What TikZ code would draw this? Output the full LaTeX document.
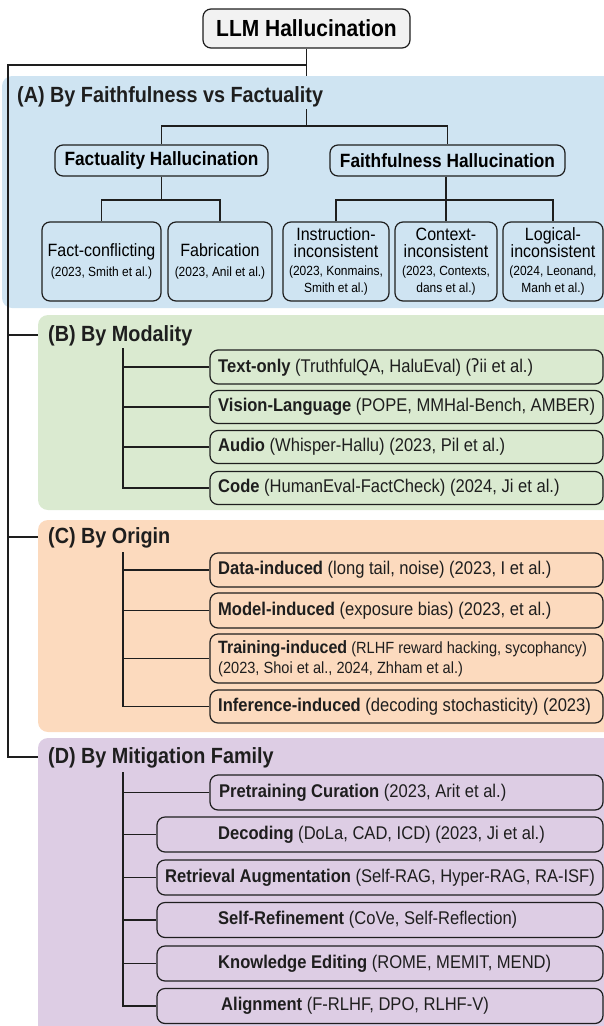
\documentclass[tikz,border=0pt]{standalone}
\usepackage{fontspec}
\setmainfont[FakeStretch=0.9]{Liberation Sans}
\newfontfamily\dejavu[FakeStretch=0.9]{DejaVu Sans}
\definecolor{panelA}{RGB}{207,228,242}
\definecolor{panelB}{RGB}{218,234,208}
\definecolor{panelC}{RGB}{252,218,190}
\definecolor{panelD}{RGB}{221,205,228}
\definecolor{rootfill}{RGB}{242,242,242}
\definecolor{ink}{RGB}{30,30,30}
\newcommand\lsm[1]{{\fontsize{13.3}{14}\selectfont #1}}
\begin{document}
\begin{tikzpicture}[x=1pt,y=-1pt,
  panel/.style={rounded corners=10pt},
  box/.style={draw=ink, line width=1.2pt, rounded corners=8pt, inner sep=0pt},
  ln/.style={draw=ink, line width=1.3pt},
  ttl/.style={font=\fontsize{22}{26}\selectfont\bfseries, anchor=west, inner sep=0pt, text=ink},
  mid/.style={box, minimum height=31pt, font=\fontsize{19.2}{22}\selectfont\bfseries, fill=panelA},
  leaf/.style={box, minimum height=79pt, align=center, font=\fontsize{17.8}{17.5}\selectfont, fill=panelA},
  itxt/.style={font=\fontsize{18.4}{21}\selectfont, anchor=west, inner sep=0pt, text=ink, align=left},
  itemB/.style={box, minimum width=393pt, fill=panelB},
  itemC/.style={box, minimum width=393pt, fill=panelC},
  itemD/.style={box, fill=panelD}
]
\useasboundingbox (0,0) rectangle (604,1026);

% panels
\fill[panelA, panel] (2,76) rectangle (620,308);
\fill[panelB, panel] (38,315) rectangle (620,510);
\fill[panelC, panel] (38,520) rectangle (620,732);
\fill[panelD, panel] (38,738) rectangle (620,1045);

% root
\node[box, fill=rootfill, minimum width=207pt, minimum height=39pt,
      font=\fontsize{23.3}{27}\selectfont\bfseries] (root) at (306.5,28.5) {LLM Hallucination};

% spine
\coordinate (j0) at (306.5,65);
\coordinate (aTop) at (306.5,76);
\coordinate (s0) at (8,65);
\coordinate (sB) at (8,335);
\coordinate (sC) at (8,537);
\coordinate (sD) at (8,757);
\coordinate (pB) at (38,335);
\coordinate (pC) at (38,537);
\coordinate (pD) at (38,757);
\draw[ln] (root.south) -- (aTop);
\draw[ln] (j0) -- (s0) -- (sD) -- (pD);
\draw[ln] (sB) -- (pB);
\draw[ln] (sC) -- (pC);

% ---------- Panel A ----------
\node[ttl] (tA) at (17,97) {(A) By Faithfulness vs Factuality};
\coordinate (aS) at (306.5,109);
\coordinate (aF) at (306.5,126);
\node[mid, minimum width=213pt] (fact) at (161.5,160.5) {Factuality Hallucination};
\node[mid, minimum width=235pt] (faith) at (447.5,160.5) {Faithfulness Hallucination};
\draw[ln] (aS) -- (aF);
\draw[ln] (fact.north) |- (aF) -| (faith.north);

\node[leaf, minimum width=119pt] (fc) at (101.5,261.5) {Fact-conflicting\\[3pt]\lsm{(2023, Smith et al.)}};
\node[leaf, minimum width=104pt] (fab) at (220,261.5) {Fabrication\\[3pt]\lsm{(2023, Anil et al.)}};
\node[leaf, minimum width=106pt] (inst) at (336,261.5) {Instruction-\\inconsistent\\\lsm{(2023, Konmains,}\\\lsm{Smith et al.)}};
\node[leaf, minimum width=102pt] (ctx) at (446,261.5) {Context-\\inconsistent\\\lsm{(2023, Contexts,}\\\lsm{dans et al.)}};
\node[leaf, minimum width=100pt] (log) at (553,261.5) {Logical-\\inconsistent\\\lsm{(2024, Leonand,}\\\lsm{Manh et al.)}};
\coordinate (fkA) at (161.5,200);
\coordinate (fkB) at (446,200);
\draw[ln] (fact.south) -- (fkA);
\draw[ln] (fc.north) |- (fkA) -| (fab.north);
\draw[ln] (faith.south -| fkB) -- (ctx.north);
\draw[ln] (inst.north) |- (fkB) -| (log.north);

% ---------- Panel B ----------
\node[ttl] (tB) at (48,336) {(B) By Modality};
\coordinate (bV) at (123,348);
\node[itemB, minimum height=34pt] (b1) at (406.5,367) {};
\node[itemB, minimum height=33pt] (b2) at (406.5,407) {};
\node[itemB, minimum height=33pt] (b3) at (406.5,447) {};
\node[itemB, minimum height=33pt] (b4) at (406.5,488) {};
\foreach \n in {b1,b2,b3,b4} \draw[ln] (bV) |- (\n.west);
\node[itxt] (b1t) at (218,367) {\textbf{Text-only} (TruthfulQA, HaluEval) ({\dejavu ʔ}ii et al.)};
\node[itxt] (b2t) at (218,407) {\textbf{Vision-Language} (POPE, MMHal-Bench, AMBER)};
\node[itxt] (b3t) at (218,447) {\textbf{Audio} (Whisper-Hallu) (2023, Pil et al.)};
\node[itxt] (b4t) at (218,488) {\textbf{Code} (HumanEval-FactCheck) (2024, Ji et al.)};

% ---------- Panel C ----------
\node[ttl] (tC) at (48,538) {(C) By Origin};
\coordinate (cV) at (123,552);
\node[itemC, minimum height=34pt] (c1) at (406.5,570) {};
\node[itemC, minimum height=35pt] (c2) at (406.5,610.5) {};
\node[itemC, minimum height=49pt] (c3) at (406.5,658.5) {};
\node[itemC, minimum height=33pt] (c4) at (406.5,706.5) {};
\foreach \n in {c1,c2,c3,c4} \draw[ln] (cV) |- (\n.west);
\node[itxt] (c1t) at (218,570) {\textbf{Data-induced} (long tail, noise) (2023, I et al.)};
\node[itxt] (c2t) at (218,610.5) {\textbf{Model-induced} (exposure bias) (2023, et al.)};
\node[itxt, font=\fontsize{16.2}{19.5}\selectfont] (c3t) at (218,658.5) {{\fontsize{17.8}{19.5}\selectfont\bfseries Training-induced} (RLHF reward hacking, sycophancy)\\(2023, Shoi et al., 2024, Zhham et al.)};
\node[itxt] (c4t) at (218,706.5) {\textbf{Inference-induced} (decoding stochasticity) (2023)};

% ---------- Panel D ----------
\node[ttl] (tD) at (48,758) {(D) By Mitigation Family};
\coordinate (dV) at (123,772);
\node[itemD, minimum width=393pt, minimum height=35pt] (d1) at (406.5,792.5) {};
\node[itemD, minimum width=446pt, minimum height=35pt] (d2) at (380,834.5) {};
\node[itemD, minimum width=446pt, minimum height=35pt] (d3) at (380,877.5) {};
\node[itemD, minimum width=446pt, minimum height=35pt] (d4) at (380,920) {};
\node[itemD, minimum width=446pt, minimum height=35pt] (d5) at (380,963.5) {};
\node[itemD, minimum width=446pt, minimum height=35pt] (d6) at (380,1006) {};
\foreach \n in {d1,d2,d3,d4,d5,d6} \draw[ln] (dV) |- (\n.west);
\node[itxt] (d1t) at (219,792.5) {\textbf{Pretraining Curation} (2023, Arit et al.)};
\node[itxt] (d2t) at (218,834.5) {\textbf{Decoding} (DoLa, CAD, ICD) (2023, Ji et al.)};
\node[itxt] (d3t) at (165,877.5) {\textbf{Retrieval Augmentation} (Self-RAG, Hyper-RAG, RA-ISF)};
\node[itxt] (d4t) at (218,920) {\textbf{Self-Refinement} (CoVe, Self-Reflection)};
\node[itxt] (d5t) at (218,963.5) {\textbf{Knowledge Editing} (ROME, MEMIT, MEND)};
\node[itxt] (d6t) at (221,1006) {\textbf{Alignment} (F-RLHF, DPO, RLHF-V)};
\end{tikzpicture}
\end{document}
